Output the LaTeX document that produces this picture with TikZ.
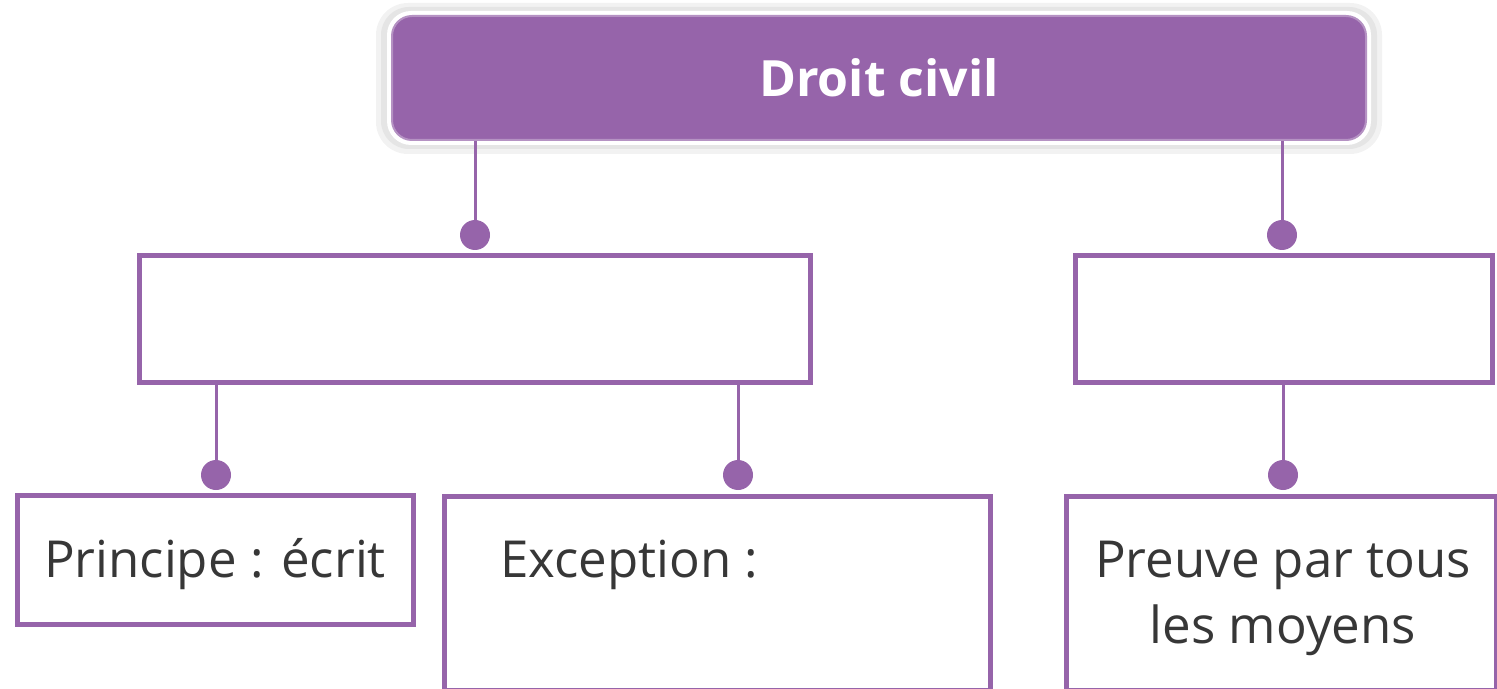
\documentclass[tikz,border=0pt]{standalone}
\usepackage{fontspec}
\setmainfont{Open Sans}
\definecolor{dcpurple}{RGB}{150,100,170}
\definecolor{dctext}{RGB}{55,55,55}
\begin{document}
\begin{tikzpicture}[x=0.5pt,y=-0.5pt,
  head/.style={fill=dcpurple,draw=dcpurple!70!white,line width=1pt,rounded corners=10pt,inner sep=0pt,
    text=white,font=\fontsize{25}{33}\selectfont\bfseries},
  box/.style={draw=dcpurple,line width=2.5pt,fill=white,inner sep=0pt,outer sep=0pt},
  conn/.style={draw=dcpurple,line width=1.5pt},
  dot/.style={circle,fill=dcpurple,minimum size=15pt,inner sep=0pt},
  lbl/.style={text=dctext,font=\fontsize{25.5}{33}\selectfont,inner sep=0pt}]
\useasboundingbox (0,0) rectangle (1497,689);
% shadow of the title box
\fill[black!5, rounded corners=16pt] (376,3) rectangle (1382,154);
\fill[black!10, rounded corners=14pt] (381,7) rectangle (1377,149);
\fill[white, rounded corners=12pt] (387,11) rectangle (1371,145);
\node[head,minimum width=487pt,minimum height=62pt] (top) at (879,78) {Droit civil};
% second level
\node[box,minimum width=335.5pt,minimum height=63.5pt] (b1) at (475,319) {};
\node[box,minimum width=208.5pt,minimum height=63.5pt] (b2) at (1284,319) {};
% third level
\node[box,minimum width=198pt,minimum height=64.5pt] (p) at (215.5,560) {};
\node[lbl,anchor=base] (plab) at (215,577) {Principe : écrit};
\node[box,minimum width=273pt,minimum height=97pt] (e) at (717.5,593) {};
\node[lbl,anchor=base west] (elab) at (500,577) {Exception :};
\node[box,minimum width=215pt,minimum height=97pt] (r) at (1281.25,593) {};
\node[lbl,align=center,anchor=base] (rlab) at (1283,643) {Preuve par tous\\les moyens};
% dots
\node[dot] (d1) at (475,235) {};
\node[dot] (d2) at (1282,235) {};
\node[dot] (d3) at (216,475) {};
\node[dot] (d4) at (738,475) {};
\node[dot] (d5) at (1283,475) {};
% connectors
\draw[conn] (top.south -| d1) -- (d1);
\draw[conn] (top.south -| d2) -- (d2);
\draw[conn] (b1.south -| d3) -- (d3);
\draw[conn] (b1.south -| d4) -- (d4);
\draw[conn] (b2.south -| d5) -- (d5);
\end{tikzpicture}
\end{document}
